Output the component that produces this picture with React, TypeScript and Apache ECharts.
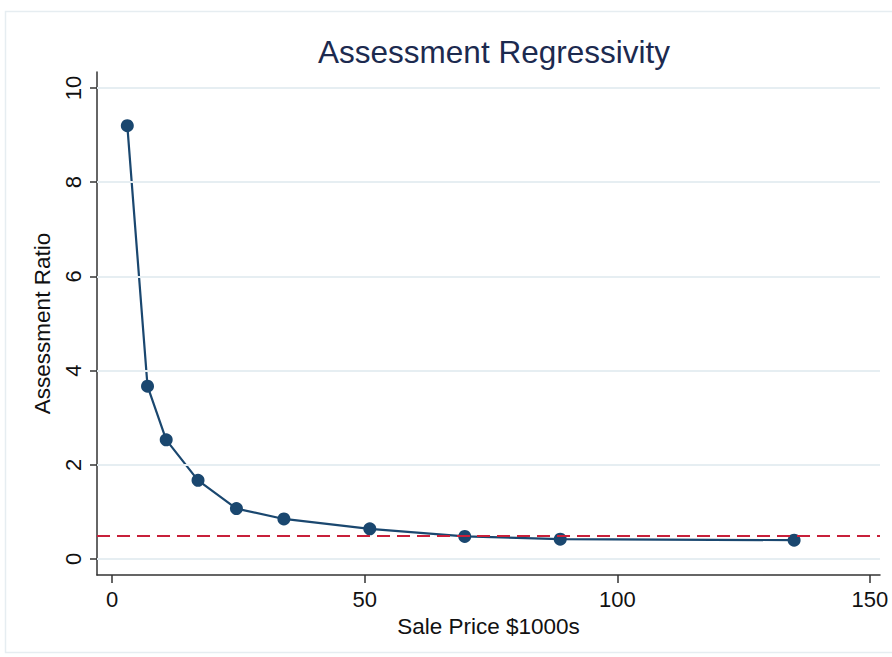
import React, { useEffect, useRef } from "react";
import * as echarts from "echarts";

const salePrice = [3.0, 7.0, 10.7, 17.0, 24.6, 34.0, 51.0, 69.8, 88.7, 135.0];
const assessmentRatio = [9.2, 3.67, 2.53, 1.67, 1.07, 0.85, 0.64, 0.48, 0.42, 0.40];
const referenceRatio = 0.5;
const xTicks = [0, 50, 100, 150];
const yTicks = [0, 2, 4, 6, 8, 10];

const NAVY = "#1a476f";
const FONT = "'Liberation Sans', Arial, Helvetica, sans-serif";

export default function App() {
  const ref = useRef<HTMLDivElement>(null);
  useEffect(() => {
    if (!ref.current) return;
    const chart = echarts.init(ref.current, undefined, { renderer: "svg" });
    chart.setOption({
      animation: false,
      backgroundColor: "#ffffff",
      textStyle: { fontFamily: FONT },
      title: {
        text: "Assessment Regressivity",
        left: 489,
        textAlign: "center",
        top: 31,
        textStyle: { fontFamily: FONT, fontSize: 31.5, fontWeight: "normal", color: "#1c2a4f" },
      },
      graphic: [
        {
          type: "rect",
          shape: { x: 5.5, y: 11.5, width: 900, height: 641 },
          style: { fill: "none", stroke: "#e6edf1", lineWidth: 1.5 },
          silent: true,
        },
      ],
      grid: { left: 97, right: 12, top: 72, bottom: 82, containLabel: false },
      xAxis: {
        type: "value",
        min: -3,
        max: 152,
        name: "Sale Price $1000s",
        nameLocation: "middle",
        nameGap: 33,
        nameTextStyle: { fontFamily: FONT, fontSize: 22.5, color: "#111" },
        axisLine: { show: true, onZero: false, lineStyle: { color: "#333", width: 1.5 } },
        axisTick: { show: true, length: 8, customValues: xTicks, lineStyle: { color: "#333", width: 1.5 } },
        axisLabel: { customValues: xTicks, margin: 13, fontSize: 22, color: "#111", fontFamily: FONT },
        splitLine: { show: false },
      },
      yAxis: {
        type: "value",
        min: -0.34,
        max: 10.34,
        name: "Assessment Ratio",
        nameLocation: "middle",
        nameGap: 37,
        nameRotate: 90,
        nameTextStyle: { fontFamily: FONT, fontSize: 22.5, color: "#111" },
        axisLine: { show: true, onZero: false, lineStyle: { color: "#333", width: 1.5 } },
        axisTick: { show: true, length: 7, customValues: yTicks, lineStyle: { color: "#333", width: 1.5 } },
        axisLabel: { customValues: yTicks, rotate: 90, margin: 13, fontSize: 22, color: "#111", fontFamily: FONT },
        splitLine: { show: false },
      },
      series: [
        {
          type: "line",
          data: yTicks.map((v) => [-3, v]),
          silent: true,
          symbol: "none",
          lineStyle: { width: 0 },
          markLine: {
            silent: true,
            symbol: "none",
            label: { show: false },
            lineStyle: { color: "#e6eef2", width: 2, type: "solid" },
            data: yTicks.map((v) => ({ yAxis: v })),
          },
          z: 1,
        },
        {
          type: "line",
          data: salePrice.map((x, i) => [x, assessmentRatio[i]]),
          symbol: "circle",
          symbolSize: 13,
          showAllSymbol: true,
          itemStyle: { color: NAVY },
          lineStyle: { color: NAVY, width: 2.2 },
          markLine: {
            silent: true,
            symbol: "none",
            label: { show: false },
            lineStyle: { color: "#c8203a", width: 2, type: [13, 7] },
            data: [{ yAxis: referenceRatio }],
          },
          z: 3,
        },
      ],
    });
    return () => chart.dispose();
  }, []);
  return <div ref={ref} style={{ position: "fixed", left: 0, top: 0, width: 892, height: 657 }} />;
}
